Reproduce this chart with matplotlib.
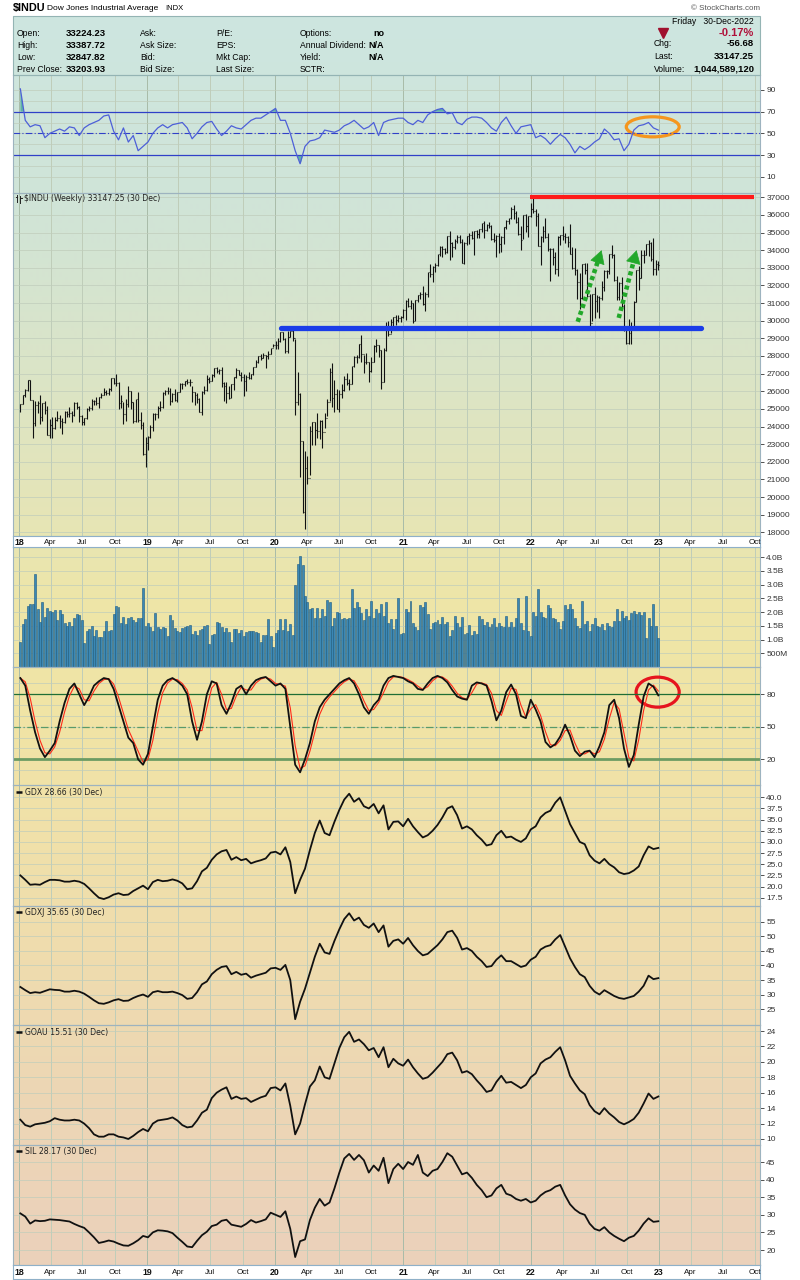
import numpy as np
import pandas as pd
import matplotlib
matplotlib.use('Agg')
import matplotlib.pyplot as plt
import matplotlib.dates as mdates
from matplotlib.patches import Ellipse, Rectangle

plt.rcParams['font.family'] = ['Liberation Sans', 'DejaVu Sans']

# ---------------- data (weekly, Fridays from 5-Jan-2018 to 30-Dec-2022) ----------------
prev_close_2017 = 24719

indu_close = [
    # 2018
    25296, 25803, 26071, 26616, 25521, 24191, 25219, 25310, 24538, 25336, 24946, 23533, 24103,
    23933, 24360, 24463, 24311, 24263, 24831, 24715, 24753, 24635, 25317, 25090, 24581, 24271,
    24456, 25019, 25058, 25451, 25463, 25313, 25669, 25790, 25965, 25917, 26155, 26744, 26458,
    26447, 25340, 25444, 24688, 25271, 25989, 25413, 24286, 25538, 24389, 24100, 22445, 23062,
    # 2019
    23433, 23996, 24706, 24737, 25064, 25106, 25883, 26031, 26026, 25450, 25849, 25502, 25929,
    26425, 26412, 26559, 26543, 26505, 25942, 25764, 25586, 24815, 25984, 26090, 26719, 26600,
    26922, 27332, 27154, 27192, 26485, 26287, 25886, 25629, 26403, 26797, 27219, 26935, 26820,
    26573, 26817, 26770, 26958, 27347, 27681, 28005, 27876, 28051, 28015, 28135, 28455, 28645,
    # 2020
    28634, 28824, 29348, 28990, 28256, 29103, 29398, 28992, 25409, 25865, 23186, 19174, 21637,
    21053, 23719, 24242, 23775, 23724, 24331, 23685, 24465, 25383, 27111, 25606, 25871, 25016,
    25827, 26075, 26672, 26470, 26428, 27433, 27931, 27930, 28654, 28133, 27666, 27657, 27174,
    27683, 28587, 28606, 28336, 26502, 28323, 29480, 29263, 29910, 30218, 30046, 30179, 30200, 30606,
    # 2021
    31098, 30814, 30997, 29983, 31148, 31458, 31494, 30932, 31496, 32779, 32628, 33073, 33153,
    33801, 34200, 34043, 33875, 34778, 34382, 34208, 34529, 34756, 34480, 33290, 34434, 34786,
    34870, 34688, 35062, 34935, 35209, 35515, 35120, 35456, 35369, 34608, 34585, 34798, 34326,
    34746, 35295, 35677, 35820, 36328, 36100, 35602, 34899, 34580, 35971, 35365, 35950, 36338,
    # 2022
    36231, 35912, 34265, 34725, 35089, 34738, 34079, 34058, 33615, 32945, 34755, 34861, 34818,
    34721, 34451, 33811, 32977, 32899, 32197, 31262, 33213, 32900, 31393, 29889, 31501, 31097,
    31338, 31289, 31899, 32845, 32803, 33761, 33707, 32283, 31318, 32152, 30822, 29590, 28726,
    29297, 29635, 31083, 32861, 32403, 33749, 33746, 34347, 34430, 33476, 32920, 33204, 33147,
]

indu_high = [
    25300, 25810, 26150, 26620, 26620, 25530, 25430, 25420, 25800, 25360, 25450, 25140, 24420,
    24540, 24540, 24860, 24640, 24480, 24870, 24900, 25090, 24870, 25400, 25400, 25150, 24650,
    24500, 25060, 25140, 25550, 25530, 25690, 25700, 25900, 26170, 26050, 26190, 26770, 26770,
    26950, 26520, 25800, 25400, 25550, 26280, 25990, 25390, 25560, 25980, 24830, 24280, 23380,
    23480, 24100, 24760, 24790, 25190, 25440, 25940, 26050, 26240, 26160, 25910, 26110, 25950,
    26440, 26440, 26560, 26700, 26700, 26300, 25970, 25880, 25590, 25990, 26270, 26900, 26800,
    27000, 27340, 27400, 27270, 27400, 26500, 26500, 26300, 26420, 26830, 27300, 27220, 27080,
    27000, 26900, 27100, 27000, 27350, 27770, 28010, 28090, 28170, 28070, 28290, 28470, 28700,
    28870, 29010, 29370, 29370, 29000, 29410, 29440, 29570, 28950, 27100, 25900, 23190, 22600,
    22300, 24010, 24260, 24240, 24770, 24360, 24380, 24760, 25580, 27340, 27580, 26610, 26140,
    26080, 26390, 26880, 27010, 26680, 27440, 28000, 28050, 28660, 29200, 28030, 28150, 27640,
    27940, 28620, 28960, 28600, 28330, 28450, 29930, 29960, 30120, 30230, 30320, 30310, 30250, 30640,
    31190, 31270, 31190, 31030, 31190, 31480, 31640, 31960, 31620, 32790, 33230, 33100, 33290,
    33810, 34260, 34260, 34120, 34810, 35090, 34470, 34640, 34850, 34850, 34610, 34470, 34800,
    35000, 35090, 35070, 35170, 35220, 35530, 35630, 35510, 35580, 35440, 34960, 34870, 35000,
    34810, 35300, 35700, 35840, 36430, 36560, 36250, 35890, 35370, 36000, 36070, 35960, 36680,
    36950, 36330, 36110, 34820, 35400, 35820, 34990, 34100, 34130, 33880, 34780, 34890, 35370,
    34960, 34780, 35490, 34170, 34120, 32950, 32690, 33230, 33250, 33270, 31490, 31520, 31890,
    31460, 31430, 32260, 32870, 32900, 33770, 34280, 33780, 32550, 32210, 32500, 30970, 29720,
    30100, 29900, 31130, 32890, 33090, 33990, 33990, 34350, 34590, 34440, 34710, 33450, 33390,
]

indu_low = [
    24810, 25280, 25700, 26000, 25490, 23360, 24050, 24790, 24120, 24340, 24730, 23510, 23340,
    23340, 23860, 24290, 23920, 23600, 24200, 24560, 24560, 24240, 24620, 24980, 24240, 24080,
    24080, 24450, 24890, 24960, 25210, 25220, 25050, 25600, 25780, 25800, 25790, 26040, 26400,
    26320, 24970, 25050, 24120, 24300, 25100, 25000, 24220, 24260, 24240, 23880, 22400, 21710,
    22640, 23340, 23740, 24360, 24510, 24880, 25060, 25780, 25820, 25210, 25390, 25450, 25380,
    25980, 26140, 26280, 26400, 26300, 25400, 25220, 25330, 24810, 24680, 25870, 26020, 26460,
    26600, 26800, 27060, 26990, 26250, 25450, 25340, 25550, 25600, 26050, 26760, 26910, 26600,
    25740, 26000, 26700, 26700, 26900, 27400, 27580, 27760, 27880, 27320, 27840, 28120, 28500,
    28400, 28400, 28820, 28900, 28170, 28170, 29070, 28850, 24680, 25200, 21150, 19120, 18210,
    20740, 21250, 22940, 22940, 23360, 23300, 22790, 23900, 24600, 25430, 25080, 24840, 24980,
    24840, 25600, 25990, 26330, 26050, 26430, 27400, 27620, 27880, 27660, 27040, 27530, 26540,
    27100, 27680, 28200, 27960, 26140, 26520, 28300, 29150, 29300, 29650, 29780, 29940, 29910, 30150,
    30020, 30750, 30650, 29850, 30000, 31050, 31240, 30880, 30550, 31350, 32480, 32220, 32780,
    33130, 33660, 33630, 33760, 33860, 33470, 33600, 34080, 34400, 34420, 33270, 33190, 34320,
    34340, 34650, 33740, 34670, 34690, 35050, 34690, 35080, 35270, 34570, 34460, 33610, 33860,
    33900, 34350, 35220, 35500, 35770, 35760, 35570, 34860, 33990, 34610, 35050, 34760, 35900,
    36130, 35370, 34240, 33150, 34480, 34700, 33970, 32270, 33170, 32630, 32550, 34320, 34560,
    34410, 34180, 33790, 32920, 32620, 31230, 30640, 31250, 32640, 31370, 29650, 29970, 30140,
    30510, 30140, 31150, 31670, 32400, 32670, 33530, 32280, 31160, 31170, 30670, 29440, 28660,
    28690, 28660, 29600, 31070, 31760, 32400, 33270, 33750, 33650, 33390, 32570, 32580, 32850,
]

# weekly volume, billions of shares
indu_vol = [
    0.9, 1.57, 1.75, 2.23, 2.29, 2.29, 3.4, 2.1, 1.63, 2.35, 1.83, 2.14, 2.05, 2.02, 2.07, 1.71,
    2.07, 1.93, 1.6, 1.48, 1.63, 1.48, 1.78, 1.93, 1.9, 1.71, 0.87, 1.3, 1.4, 1.48, 1.12, 1.36,
    1.1, 1.1, 1.3, 1.68, 1.3, 1.36, 1.92, 2.23, 2.17, 1.6, 1.83, 1.57, 1.8, 1.81, 1.71, 1.63,
    1.8, 1.77, 2.88, 1.48,
    1.62, 1.46, 1.32, 1.98, 1.46, 1.38, 1.44, 1.42, 1.14, 1.89, 1.7, 1.42, 1.32, 1.26, 1.42, 1.46,
    1.5, 1.54, 1.2, 1.32, 1.18, 1.35, 1.38, 1.5, 1.54, 0.85, 1.18, 1.2, 1.65, 1.62, 1.46, 1.26,
    1.42, 1.26, 0.9, 1.38, 1.38, 1.23, 1.35, 1.14, 1.26, 1.3, 1.32, 1.3, 1.26, 1.23, 0.9, 1.18,
    1.18, 1.74, 1.14, 0.73,
    1.25, 1.35, 1.75, 1.35, 1.75, 1.3, 1.55, 1.15, 3.0, 3.75, 4.05, 3.7, 2.6, 2.35, 2.1, 2.15,
    1.8, 2.15, 1.8, 2.1, 1.85, 2.45, 2.35, 1.5, 1.8, 2.0, 1.95, 1.75, 1.8, 1.75, 1.8, 2.85,
    2.15, 2.35, 2.2, 1.95, 1.7, 2.1, 1.85, 2.4, 1.8, 2.1, 1.95, 2.3, 1.85, 2.35, 1.6, 1.75,
    1.4, 1.75, 2.5, 1.2, 1.25,
    2.13, 2.0, 2.42, 1.62, 1.46, 1.35, 2.25, 2.18, 2.38, 1.92, 1.38, 1.62, 1.65, 1.7, 1.55, 1.83,
    1.58, 1.65, 1.14, 1.35, 1.86, 1.62, 1.44, 1.83, 1.2, 1.23, 1.54, 1.18, 1.3, 1.2, 1.86, 1.74,
    1.54, 1.65, 1.46, 1.55, 1.8, 1.44, 1.6, 1.5, 1.45, 1.85, 1.45, 1.65, 1.44, 1.8, 2.5, 1.62,
    1.35, 2.6, 1.32, 1.14,
    2.0, 1.86, 2.85, 2.0, 1.83, 1.8, 2.25, 2.15, 1.77, 1.74, 1.65, 1.38, 1.68, 2.25, 2.1, 2.29,
    2.13, 1.8, 1.5, 1.42, 2.4, 1.55, 1.68, 1.32, 1.55, 1.8, 1.5, 1.44, 1.55, 1.35, 1.6, 1.5,
    1.45, 1.68, 2.1, 1.68, 2.05, 1.8, 1.86, 1.7, 1.95, 2.05, 1.93, 2.0, 1.9, 2.0, 1.05, 1.8,
    1.5, 2.3, 1.5, 1.05,
]

# ---------------- indicators and other tickers (every second Friday) ----------------
rsi = [
    91, 62, 56, 58, 57, 46, 50, 52, 54, 52, 56, 55, 48, 55, 58, 60, 62, 66, 67, 52, 44, 55, 42, 48, 34, 38,
    42, 50, 55, 58, 55, 58, 59, 60, 55, 45, 50, 56, 60, 61, 54, 48, 52, 57, 55, 54, 58, 62, 64, 64, 67, 70,
    73, 62, 62, 50, 34, 22, 38, 43, 44, 46, 53, 52, 51, 53, 57, 59, 62, 58, 54, 56, 60, 48, 60, 62, 63, 64,
    64, 60, 58, 62, 60, 67, 70, 72, 73, 68, 69, 60, 58, 63, 65, 65, 64, 60, 55, 52, 60, 65, 57, 50, 56, 57,
    58, 46, 48, 45, 40, 45, 49, 46, 40, 32, 38, 35, 38, 42, 45, 54, 50, 44, 45, 34, 40, 53, 57, 58, 60, 55, 53,
]

stoch_k = [
    95, 88, 65, 45, 30, 22, 28, 35, 55, 72, 85, 90, 80, 70, 78, 88, 92, 95, 94, 85, 70, 55, 40, 35, 20, 15,
    25, 50, 75, 88, 93, 95, 92, 88, 80, 55, 38, 55, 80, 92, 90, 70, 62, 72, 85, 88, 80, 88, 93, 95, 96, 92,
    88, 90, 85, 50, 15, 8, 20, 35, 55, 68, 75, 80, 85, 90, 93, 95, 90, 80, 68, 62, 70, 75, 88, 95, 97, 96,
    95, 92, 90, 85, 84, 90, 95, 97, 95, 91, 84, 78, 76, 75, 88, 91, 90, 88, 74, 56, 65, 82, 89, 80, 60, 58,
    75, 66, 55, 36, 31, 34, 41, 52, 42, 28, 23, 27, 28, 22, 32, 45, 70, 75, 58, 30, 13, 24, 52, 78, 90, 87, 79,
]

gdx = [
    22.5, 21.5, 20.4, 20.5, 20.4, 21.0, 21.5, 21.5, 21.4, 21.1, 21.1, 21.3, 21.1, 20.6, 19.6, 18.5, 17.5,
    17.2, 17.6, 18.2, 18.5, 18.1, 18.2, 19.0, 19.6, 20.2,
    19.4, 21.0, 21.5, 21.2, 21.3, 21.6, 21.3, 20.7, 19.4, 19.6, 21.2, 23.4, 24.2, 26.0, 27.2, 27.9, 28.2,
    26.0, 26.6, 25.9, 26.2, 25.2, 25.6, 25.9, 26.3, 27.6,
    27.8, 27.2, 28.8, 25.5, 18.5, 21.5, 24.0, 28.2, 32.0, 34.8, 32.0, 31.5, 34.5, 37.2, 39.5, 40.8, 39.0,
    39.8, 38.0, 37.5, 38.5, 36.4, 38.2, 32.8, 34.5, 34.6,
    33.5, 35.2, 33.5, 32.2, 31.0, 31.5, 32.5, 33.8, 35.5, 37.5, 38.0, 36.0, 33.0, 33.5, 32.8, 31.5, 30.5,
    29.2, 29.5, 31.5, 32.5, 31.0, 31.2, 30.5, 30.0, 30.8,
    32.8, 33.5, 35.5, 36.5, 37.0, 38.8, 40.0, 37.0, 34.0, 32.0, 30.0, 29.5, 27.0, 25.8, 25.2, 26.2, 25.0,
    24.3, 23.2, 22.8, 23.0, 23.6, 24.5, 27.0, 29.0, 28.4, 28.66,
]

gdxj = [
    32.6, 31.5, 30.5, 30.8, 30.6, 31.2, 31.8, 31.6, 31.5, 31.0, 31.0, 31.3, 31.0, 30.3, 29.2, 28.0, 27.0,
    26.8, 27.3, 28.0, 28.4, 27.8, 27.9, 28.8, 29.5, 30.0,
    29.2, 30.8, 31.2, 30.8, 30.8, 31.0, 30.5, 29.8, 28.5, 28.8, 30.8, 33.5, 34.5, 37.0, 38.5, 39.5, 39.8,
    37.0, 37.8, 36.8, 37.2, 35.8, 36.5, 37.0, 37.5, 39.0,
    39.2, 38.5, 40.2, 35.0, 21.5, 27.5, 32.0, 37.5, 43.0, 47.5, 44.5, 44.0, 48.5, 52.5, 56.0, 58.0, 55.5,
    56.5, 54.0, 53.0, 54.5, 51.5, 53.8, 46.5, 48.5, 49.0,
    47.5, 49.5, 47.0, 45.0, 43.5, 44.0, 45.5, 47.0, 49.0, 51.5, 52.0, 49.5, 45.5, 46.0, 45.0, 43.0, 41.5,
    39.5, 39.8, 42.0, 43.5, 41.5, 41.5, 40.5, 39.5, 40.0,
    42.0, 43.0, 45.5, 46.5, 47.0, 49.0, 50.5, 46.5, 42.5, 39.5, 37.0, 36.0, 33.0, 31.0, 30.0, 31.5, 30.5,
    29.5, 28.8, 28.5, 29.0, 29.5, 31.0, 33.0, 36.5, 35.3, 35.65,
]

goau = [
    12.5, 11.8, 11.6, 11.9, 12.0, 12.1, 12.3, 12.7, 12.5, 12.4, 12.4, 12.5, 12.4, 12.0, 11.4, 10.6, 10.3,
    10.3, 10.6, 10.6, 10.3, 10.2, 10.0, 10.4, 10.9, 11.3,
    11.0, 12.0, 12.4, 12.5, 12.6, 12.8, 12.4, 11.8, 11.5, 11.6, 12.4, 13.4, 13.8, 15.3, 16.0, 16.4, 16.7,
    15.2, 15.5, 15.2, 15.3, 14.8, 15.1, 15.4, 15.6, 16.6,
    16.7, 16.3, 17.2, 14.3, 10.6, 12.0, 14.5, 16.8, 17.6, 19.4, 18.0, 17.8, 19.8, 21.8, 23.2, 23.9, 22.6,
    22.9, 22.3, 21.5, 21.8, 20.6, 21.9, 19.3, 20.4, 19.8,
    19.5, 20.3, 19.3, 18.5, 17.8, 18.0, 18.6, 19.3, 20.0, 21.0, 21.2, 20.2, 18.6, 18.8, 18.4, 17.6, 16.9,
    16.1, 16.3, 17.4, 18.2, 17.3, 17.4, 17.0, 16.6, 17.0,
    18.0, 18.5, 19.8, 20.3, 20.6, 21.3, 21.9, 20.2, 18.2, 17.2, 16.3, 15.8, 14.4, 13.6, 13.2, 14.0, 13.3,
    12.8, 12.2, 11.9, 12.2, 12.6, 13.4, 14.6, 15.9, 15.2, 15.51,
]

sil = [
    30.4, 29.5, 27.5, 28.4, 28.2, 28.3, 28.7, 28.6, 28.5, 28.3, 28.1, 27.4, 26.8, 26.3, 25.0, 23.6, 22.0,
    22.3, 22.7, 22.4, 21.8, 21.3, 21.2, 21.9, 22.8, 24.0,
    23.6, 25.0, 25.6, 25.5, 25.3, 24.8, 23.5, 22.3, 21.0, 20.8, 22.6, 24.2, 25.2, 26.8, 27.2, 28.3, 28.6,
    27.2, 26.9, 26.6, 27.4, 28.5, 27.8, 28.2, 28.7, 30.6,
    30.0, 29.4, 31.0, 26.0, 18.0, 22.5, 23.0, 28.5, 32.0, 34.5, 32.6, 33.5, 37.5, 42.0, 46.0, 47.3, 45.6,
    47.0, 45.5, 42.0, 44.0, 42.5, 46.2, 39.0, 43.0, 44.5,
    43.0, 45.0, 44.2, 47.0, 42.0, 41.0, 42.5, 43.0, 45.0, 47.5, 46.5, 44.0, 41.5, 42.0, 40.5, 38.5, 37.0,
    35.0, 35.5, 37.5, 38.5, 36.0, 35.5, 34.5, 34.0, 34.5,
    33.5, 34.0, 35.5, 36.5, 37.0, 38.0, 38.5, 35.5, 33.0, 31.5, 30.5, 30.0, 27.5, 26.0, 25.5, 26.5, 25.0,
    24.0, 23.2, 22.5, 23.5, 24.0, 25.5, 27.5, 29.0, 28.0, 28.17,
]

# ---------------- layout helpers ----------------
W, H = 800, 1280
fig = plt.figure(figsize=(8, 12.8), dpi=100, facecolor='white')


def px_rect(x0, y0, x1, y1):
    return [x0 / W, 1 - y1 / H, (x1 - x0) / W, (y1 - y0) / H]


def d2n(s):
    return mdates.date2num(pd.Timestamp(s))


weeks = mdates.date2num(pd.date_range('2018-01-05', periods=len(indu_close), freq='W-FRI').to_pydatetime())
vweeks = mdates.date2num(pd.date_range('2018-01-05', periods=len(indu_vol), freq='W-FRI').to_pydatetime())
biweeks = mdates.date2num(pd.date_range('2018-01-05', periods=len(rsi), freq='2W-FRI').to_pydatetime())
quarters = pd.date_range('2018-01-01', '2023-10-01', freq='QS')
qx = mdates.date2num(quarters.to_pydatetime())
xlim = (d2n('2017-12-15'), d2n('2023-10-16'))

# background gradient (teal at top -> sand at bottom)
bg = fig.add_axes([0, 0, 1, 1], zorder=0)
stops_y = [16, 200, 360, 520, 600, 720, 850, 960, 1080, 1200, 1265]
stops_c = ['#cde6e0', '#d0e4d8', '#dae4c8', '#e6e5b6', '#eee6a8', '#f1e4a5',
           '#f0e0aa', '#efdcae', '#edd7b4', '#ecd3b9', '#ebd1bb']
rgb = np.array([matplotlib.colors.to_rgb(c) for c in stops_c])
rows = np.arange(16, 1266)
grad = np.stack([np.interp(rows, stops_y, rgb[:, i]) for i in range(3)], axis=1)[:, None, :]
bg.imshow(grad, extent=(13, 760, 1265, 16), aspect='auto', interpolation='bilinear')
bg.set_xlim(0, W)
bg.set_ylim(H, 0)
bg.axis('off')


def panel(y0, y1, ylo, yhi, ticks, labels, grid):
    ax = fig.add_axes(px_rect(13, y0, 760, y1), zorder=2)
    ax.set_facecolor('none')
    ax.set_xlim(*xlim)
    ax.set_ylim(ylo, yhi)
    for d, x in zip(quarters, qx):
        ax.axvline(x, color='#a8bba8' if d.month == 1 else '#bfcdb9', lw=0.7, zorder=0)
    for g in grid:
        ax.axhline(g, color='#c0cdbb', lw=0.5, zorder=0)
    ax.set_xticks([])
    ax.yaxis.tick_right()
    ax.set_yticks(ticks)
    ax.set_yticklabels(labels)
    ax.tick_params(axis='y', labelsize=6, length=3, pad=1.5, colors='#333333', width=0.6)
    for s in ax.spines.values():
        s.set_color('#9db3bf')
        s.set_linewidth(0.8)
    return ax


def band(y0, y1):
    ax = fig.add_axes(px_rect(13, y0, 760, y1), zorder=3)
    ax.set_facecolor('white')
    ax.set_xlim(*xlim)
    ax.set_ylim(0, 1)
    ax.set_xticks([])
    ax.set_yticks([])
    for s in ax.spines.values():
        s.set_color('#8fb0c8')
        s.set_linestyle((0, (1, 1)))
        s.set_linewidth(0.8)
    for d, x in zip(quarters, qx):
        year = d.month == 1
        ax.text(x, 0.45, d.strftime('%y') if year else d.strftime('%b'), ha='center', va='center',
                fontsize=6.3 if year else 5.8, fontweight='bold' if year else 'normal',
                color='#111111', clip_on=False)
    return ax


# ---------------- RSI panel ----------------
ax_rsi = panel(75, 193, -5, 103.8, [10, 30, 50, 70, 90], ['10', '30', '50', '70', '90'], range(10, 100, 10))
r = np.array(rsi, dtype=float)
ax_rsi.fill_between(biweeks, r, 70, where=r > 70, interpolate=True, color='#5fb3a5', lw=0)
ax_rsi.fill_between(biweeks, r, 30, where=r < 30, interpolate=True, color='#5fb3a5', lw=0)
ax_rsi.axhline(70, color='#3040c8', lw=0.9)
ax_rsi.axhline(30, color='#3040c8', lw=0.9)
ax_rsi.axhline(50, color='#3040c8', lw=0.8, ls=(0, (6, 2, 1, 2)))
ax_rsi.plot(biweeks, r, color='#4d5fd8', lw=0.9)
ax_rsi.add_patch(Ellipse((d2n('2022-12-14'), 56), width=151, height=18.5, fill=False,
                         ec='#f5961e', lw=2.3))

# ---------------- price panel ----------------
price_ticks = list(range(18000, 37001, 1000))
ax_p = panel(193, 536, 17790, 37244, price_ticks, [str(v) for v in price_ticks], price_ticks)
indu_open = [prev_close_2017] + indu_close[:-1]
ax_p.vlines(weeks, indu_low, indu_high, color='#111111', lw=0.8)
ax_p.hlines(indu_open, weeks - 2.3, weeks, color='#111111', lw=0.8)
ax_p.hlines(indu_close, weeks, weeks + 2.3, color='#111111', lw=0.8)

ax_p.plot([d2n('2021-12-29'), d2n('2023-09-29')], [37000, 37000], color='#ff1a1a', lw=3.0,
          solid_capstyle='butt')
ax_p.plot([d2n('2020-01-19'), d2n('2023-05-02')], [29570, 29570], color='#1a3ce8', lw=3.8,
          solid_capstyle='round')


def green_arrow(ax, d0, v0, d1, v1):
    x0, x1 = d2n(d0), d2n(d1)
    xm, vm = x1 - 0.16 * (x1 - x0), v1 - 0.16 * (v1 - v0)
    ax.plot([x0, xm], [v0, vm], color='#22a82a', lw=3.3, ls=(0, (0.9, 0.7)))
    ax.annotate('', xy=(x1, v1), xytext=(xm, vm),
                arrowprops=dict(arrowstyle='-|>,head_length=0.8,head_width=0.45', color='#22a82a',
                                lw=0.5, mutation_scale=11, shrinkA=0, shrinkB=0))


green_arrow(ax_p, '2022-05-14', 29940, '2022-07-21', 34000)
green_arrow(ax_p, '2022-09-08', 30160, '2022-10-29', 34000)

band(536, 547)

# ---------------- volume panel ----------------
vt = [0.5, 1.0, 1.5, 2.0, 2.5, 3.0, 3.5, 4.0]
ax_v = panel(547, 667, 0, 4.37, vt, ['500M', '1.0B', '1.5B', '2.0B', '2.5B', '3.0B', '3.5B', '4.0B'], vt)
ax_v.bar(vweeks, indu_vol, width=5.6, color='#3b88b5', edgecolor='#1d5a80', lw=0.4)

# ---------------- slow stochastic panel ----------------
ax_s = panel(667, 785, -3.7, 105.2, [20, 50, 80], ['20', '50', '80'], range(10, 100, 10))
ax_s.axhline(80, color='#1f6e35', lw=0.9)
ax_s.axhline(20, color='#6c9c63', lw=2.0)
ax_s.axhline(50, color='#5a9a6a', lw=0.9, ls=(0, (6, 2, 1, 2)))
stoch_d = pd.Series(stoch_k, dtype=float).rolling(2, min_periods=1).mean()
ax_s.plot(biweeks, stoch_d, color='#ff2a1a', lw=0.8)
ax_s.plot(biweeks, stoch_k, color='#111111', lw=1.3)
ax_s.add_patch(Ellipse((d2n('2022-12-28'), 82), width=123, height=27.7, fill=False,
                       ec='#e6141e', lw=2.3))

# ---------------- gold / silver miners ----------------
gt = [17.5 + 2.5 * i for i in range(10)]
ax_gdx = panel(785, 906, 15.64, 42.76, gt, ['%.1f' % v for v in gt], gt)
ax_gdx.plot(biweeks, gdx, color='#111111', lw=1.3)

jt = list(range(25, 56, 5))
ax_gdxj = panel(906, 1025, 19.5, 60.5, jt, [str(v) for v in jt], jt)
ax_gdxj.plot(biweeks, gdxj, color='#111111', lw=1.3)

ot = list(range(10, 25, 2))
ax_goau = panel(1025, 1145, 9.22, 24.78, ot, [str(v) for v in ot], ot)
ax_goau.plot(biweeks, goau, color='#111111', lw=1.3)

st = list(range(20, 46, 5))
ax_sil = panel(1145, 1265, 15.74, 49.83, st, [str(v) for v in st], st)
ax_sil.plot(biweeks, sil, color='#111111', lw=1.3)

band(1265, 1279)

# ---------------- header and labels (pixel coordinates) ----------------
top = fig.add_axes([0, 0, 1, 1], zorder=5)
top.set_xlim(0, W)
top.set_ylim(H, 0)
top.axis('off')

top.add_patch(Rectangle((13, 16), 747, 59, fill=False, ec='#94b4b4', lw=0.8))
top.text(13, 8, '$INDU', fontsize=7.8, fontweight='bold', va='center')
top.text(47, 8.5, 'Dow Jones Industrial Average', fontsize=6, va='center')
top.text(165, 8.5, 'INDX', fontsize=5.5, va='center')
top.text(760, 8.5, '© StockCharts.com', fontsize=5.8, va='center', ha='right', color='#555555')

rows_y = [33, 45, 57, 69]
col1 = ['Open:', 'High:', 'Low:', 'Prev Close:']
col1v = ['33224.23', '33387.72', '32847.82', '33203.93']
col2 = ['Ask:', 'Ask Size:', 'Bid:', 'Bid Size:']
col3 = ['P/E:', 'EPS:', 'Mkt Cap:', 'Last Size:']
col4 = ['Options:', 'Annual Dividend:', 'Yield:', 'SCTR:']
col4v = ['no', 'N/A', 'N/A', '']
for y, a, av, b, c, d, dv in zip(rows_y, col1, col1v, col2, col3, col4, col4v):
    top.text(17, y, a, fontsize=6.2, va='center')
    top.text(66, y, av, fontsize=6.8, va='center', fontweight='bold')
    top.text(140, y, b, fontsize=6.2, va='center')
    top.text(216, y, c, fontsize=6.2, va='center')
    top.text(300, y, d, fontsize=6.2, va='center')
    top.text(384, y, dv, fontsize=6.5, va='center', ha='right', fontweight='bold')

top.text(754, 21, 'Friday   30-Dec-2022', fontsize=6.2, va='center', ha='right')
top.plot(663, 32.5, marker='v', color='#a0102e', ms=7)
top.text(754, 32.5, '-0.17%', fontsize=8, va='center', ha='right', fontweight='bold', color='#b0103a')
top.text(654, 44, 'Chg:', fontsize=6.2, va='center')
top.text(754, 44, '-56.68', fontsize=6.8, va='center', ha='right', fontweight='bold')
top.text(654, 56.5, 'Last:', fontsize=6.2, va='center')
top.text(754, 56.5, '33147.25', fontsize=6.8, va='center', ha='right', fontweight='bold')
top.text(654, 69, 'Volume:', fontsize=6.2, va='center')
top.text(754, 69, '1,044,589,120', fontsize=6.8, va='center', ha='right', fontweight='bold')

# small bar icon + panel legends
top.plot([17, 17], [195, 202], color='#222222', lw=0.7)
top.plot([15.5, 17], [197, 197], color='#222222', lw=0.7)
top.plot([20, 20], [196, 203], color='#222222', lw=0.7)
top.plot([20, 21.5], [198, 198], color='#222222', lw=0.7)
top.text(24, 198.5, '$INDU (Weekly) 33147.25 (30 Dec)', fontsize=5.6, va='center',
         family='DejaVu Sans', color='#222222')

legends = [(792, 'GDX 28.66 (30 Dec)'), (912, 'GDXJ 35.65 (30 Dec)'),
           (1031.5, 'GOAU 15.51 (30 Dec)'), (1151, 'SIL 28.17 (30 Dec)')]
for y, lab in legends:
    top.plot([16, 22], [y, y], color='#111111', lw=1.8, solid_capstyle='butt')
    top.text(25, y + 0.5, lab, fontsize=5.6, va='center', family='DejaVu Sans', color='#222222')

fig.savefig('out.png', dpi=100)
